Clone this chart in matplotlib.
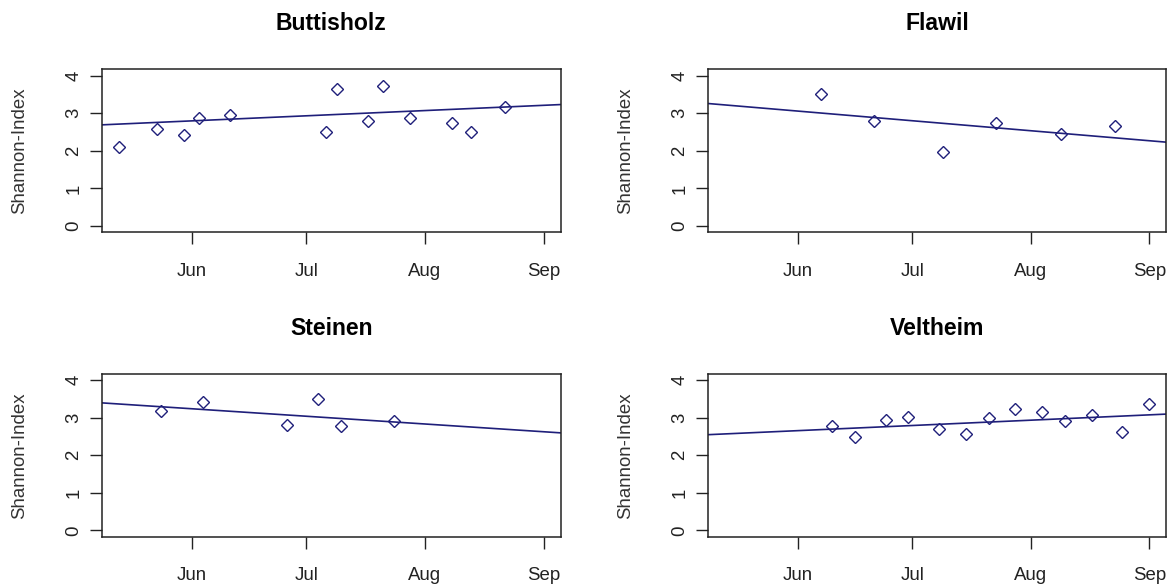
import matplotlib
matplotlib.use("Agg")
import matplotlib.pyplot as plt
import matplotlib.dates as mdates
import numpy as np
import datetime as dt

# ---------------- data ----------------
sites = ["Buttisholz", "Flawil", "Steinen", "Veltheim"]

buttisholz_dates = ["2015-05-13", "2015-05-23", "2015-05-30", "2015-06-03", "2015-06-11",
                    "2015-07-06", "2015-07-09", "2015-07-17", "2015-07-21", "2015-07-28",
                    "2015-08-08", "2015-08-13", "2015-08-22"]
buttisholz_values = [2.10, 2.58, 2.42, 2.87, 2.95, 2.51, 3.65, 2.79, 3.73, 2.87, 2.75, 2.51, 3.16]

flawil_dates = ["2015-06-07", "2015-06-21", "2015-07-09", "2015-07-23", "2015-08-09", "2015-08-23"]
flawil_values = [3.52, 2.79, 1.97, 2.75, 2.46, 2.66]

steinen_dates = ["2015-05-24", "2015-06-04", "2015-06-26", "2015-07-04", "2015-07-10", "2015-07-24"]
steinen_values = [3.19, 3.43, 2.82, 3.51, 2.78, 2.91]

veltheim_dates = ["2015-06-10", "2015-06-16", "2015-06-24", "2015-06-30", "2015-07-08",
                  "2015-07-15", "2015-07-21", "2015-07-28", "2015-08-04", "2015-08-10",
                  "2015-08-17", "2015-08-25", "2015-09-01"]
veltheim_values = [2.78, 2.50, 2.94, 3.03, 2.70, 2.57, 2.99, 3.24, 3.16, 2.91, 3.08, 2.63, 3.36]

# regression trend: value at 1 June and at 1 September
trend_dates = ["2015-06-01", "2015-09-01"]
buttisholz_trend = [2.796, 3.21]
flawil_trend = [3.057, 2.268]
steinen_trend = [3.242, 2.629]
veltheim_trend = [2.658, 3.079]

y_ticks = [0, 1, 2, 3, 4]
y_label = "Shannon-Index"

# ---------------- style ----------------
plt.rcParams['font.family'] = ['Liberation Sans', 'DejaVu Sans']
col = "#1f1f7a"
tick_fs = 13.4
title_fs = 16.6

fig = plt.figure(figsize=(11.7, 5.86), dpi=100)
W, H = 1170.0, 586.0
boxes = [(102, 69.3, 560.6, 232.3), (708, 69.3, 1166.2, 232.3),
         (102, 374.0, 560.6, 536.7), (708, 374.0, 1166.2, 536.7)]

panels = [
    (buttisholz_dates, buttisholz_values, buttisholz_trend),
    (flawil_dates, flawil_values, flawil_trend),
    (steinen_dates, steinen_values, steinen_trend),
    (veltheim_dates, veltheim_values, veltheim_trend),
]

def to_dt(s):
    return dt.datetime.strptime(s, "%Y-%m-%d")

all_dates = [to_dt(d) for p in panels for d in p[0]]
dmin, dmax = mdates.date2num(min(all_dates)), mdates.date2num(max(all_dates))
pad = 0.04 * (dmax - dmin)
xlim = (dmin - pad, dmax + pad)
ylim = (-0.168, 4.168)

for (name, (dates, vals, trend), (x0, y0, x1, y1)) in zip(sites, panels, boxes):
    ax = fig.add_axes([x0 / W, (H - y1) / H, (x1 - x0) / W, (y1 - y0) / H])
    xs = [to_dt(d) for d in dates]
    ax.plot(xs, vals, linestyle='none', marker='D', markersize=6.0,
            markerfacecolor='none', markeredgecolor=col, markeredgewidth=1.0)
    tx = [mdates.date2num(to_dt(d)) for d in trend_dates]
    ax.axline((tx[0], trend[0]), (tx[1], trend[1]), color=col, linewidth=1.2)
    ax.set_xlim(xlim)
    ax.set_ylim(ylim)
    ax.xaxis.set_major_locator(mdates.MonthLocator(bymonth=[6, 7, 8, 9]))
    ax.xaxis.set_major_formatter(mdates.DateFormatter('%b'))
    ax.set_yticks(y_ticks)
    ax.set_yticklabels([str(v) for v in y_ticks], rotation=90, va='center')
    ax.tick_params(axis='x', direction='out', length=8.5, width=1.0, pad=13.5,
                   labelsize=tick_fs, colors='#222222')
    ax.tick_params(axis='y', direction='out', length=8.5, width=1.0, pad=5.8,
                   labelsize=tick_fs, colors='#222222')
    for sp in ax.spines.values():
        sp.set_linewidth(1.1)
        sp.set_color('#222222')
    ax.set_title(name, fontsize=title_fs, fontweight='bold', pad=28)
    ax.set_ylabel(y_label, fontsize=tick_fs, color='#333333', va='baseline')
    ax.yaxis.set_label_coords(-78.0 / (x1 - x0), 0.5)

fig.savefig("out.png", dpi=100)
